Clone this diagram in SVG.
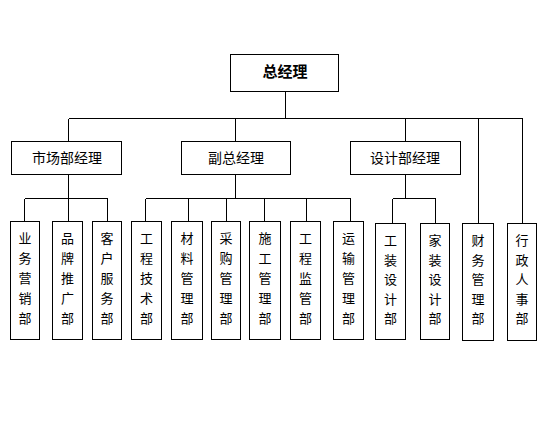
<svg xmlns="http://www.w3.org/2000/svg" width="548" height="432" viewBox="0 0 548 432">
<style>
rect{fill:#fff;stroke:#000;stroke-width:1;shape-rendering:crispEdges}
.c line{stroke:#000;stroke-width:1;shape-rendering:crispEdges}
text{font-family:"Noto Sans CJK SC","Noto Sans CJK JP",sans-serif;fill:#000;text-anchor:middle;dominant-baseline:central}
.t{font-size:15px;font-weight:bold}
.m{font-size:14px}
.l{font-size:13px}
</style>
<rect x="0" y="0" width="548" height="432" style="stroke:none"/>
<g class="c" id="connectors">
<line x1="285.5" y1="91.5" x2="285.5" y2="118.5"/>
<line x1="68.5" y1="118.5" x2="522.5" y2="118.5"/>
<line x1="68.5" y1="118.5" x2="68.5" y2="141.5"/>
<line x1="235.5" y1="118.5" x2="235.5" y2="141.5"/>
<line x1="405.5" y1="118.5" x2="405.5" y2="141.5"/>
<line x1="478.5" y1="118.5" x2="478.5" y2="223.5"/>
<line x1="522.5" y1="118.5" x2="522.5" y2="223.5"/>
<line x1="68.5" y1="174.5" x2="68.5" y2="198.5"/>
<line x1="235.5" y1="174.5" x2="235.5" y2="198.5"/>
<line x1="405.5" y1="174.5" x2="405.5" y2="198.5"/>
<line x1="24.5" y1="198.5" x2="107.5" y2="198.5"/>
<line x1="145.5" y1="198.5" x2="350.5" y2="198.5"/>
<line x1="392.5" y1="198.5" x2="435.5" y2="198.5"/>
<line x1="24.5" y1="198.5" x2="24.5" y2="221.5"/>
<line x1="68.5" y1="198.5" x2="68.5" y2="221.5"/>
<line x1="107.5" y1="198.5" x2="107.5" y2="221.5"/>
<line x1="145.5" y1="198.5" x2="145.5" y2="221.5"/>
<line x1="188.5" y1="198.5" x2="188.5" y2="221.5"/>
<line x1="226.5" y1="198.5" x2="226.5" y2="221.5"/>
<line x1="264.5" y1="198.5" x2="264.5" y2="221.5"/>
<line x1="306.5" y1="198.5" x2="306.5" y2="221.5"/>
<line x1="350.5" y1="198.5" x2="350.5" y2="221.5"/>
<line x1="392.5" y1="198.5" x2="392.5" y2="223.5"/>
<line x1="435.5" y1="198.5" x2="435.5" y2="223.5"/>
</g>
<g id="gm"><rect x="230.5" y="54.5" width="108" height="37"/><text class="t" x="285" y="70">总经理</text></g>
<g id="scb"><rect x="11.5" y="141.5" width="110" height="33"/><text class="m" x="67" y="157">市场部经理</text></g>
<g id="fzjl"><rect x="181.5" y="141.5" width="109" height="33"/><text class="m" x="236" y="157">副总经理</text></g>
<g id="sjb"><rect x="350.5" y="141.5" width="110" height="33"/><text class="m" x="405" y="157">设计部经理</text></g>
<g id="ywyx"><rect x="10.5" y="221.5" width="29" height="118"/><text class="l" x="25"><tspan x="25" y="237">业</tspan><tspan x="25" y="257">务</tspan><tspan x="25" y="277">营</tspan><tspan x="25" y="297">销</tspan><tspan x="25" y="317">部</tspan></text></g>
<g id="pptg"><rect x="52.5" y="221.5" width="30" height="118"/><text class="l"><tspan x="67.5" y="237">品</tspan><tspan x="67.5" y="257">牌</tspan><tspan x="67.5" y="277">推</tspan><tspan x="67.5" y="297">广</tspan><tspan x="67.5" y="317">部</tspan></text></g>
<g id="khfw"><rect x="92.5" y="221.5" width="29" height="118"/><text class="l"><tspan x="107" y="237">客</tspan><tspan x="107" y="257">户</tspan><tspan x="107" y="277">服</tspan><tspan x="107" y="297">务</tspan><tspan x="107" y="317">部</tspan></text></g>
<g id="gcjs"><rect x="131.5" y="221.5" width="30" height="118"/><text class="l"><tspan x="146.5" y="237">工</tspan><tspan x="146.5" y="257">程</tspan><tspan x="146.5" y="277">技</tspan><tspan x="146.5" y="297">术</tspan><tspan x="146.5" y="317">部</tspan></text></g>
<g id="clgl"><rect x="171.5" y="221.5" width="31" height="118"/><text class="l"><tspan x="187" y="237">材</tspan><tspan x="187" y="257">料</tspan><tspan x="187" y="277">管</tspan><tspan x="187" y="297">理</tspan><tspan x="187" y="317">部</tspan></text></g>
<g id="cggl"><rect x="211.5" y="221.5" width="29" height="118"/><text class="l"><tspan x="226" y="237">采</tspan><tspan x="226" y="257">购</tspan><tspan x="226" y="277">管</tspan><tspan x="226" y="297">理</tspan><tspan x="226" y="317">部</tspan></text></g>
<g id="sggl"><rect x="249.5" y="221.5" width="31" height="118"/><text class="l"><tspan x="265" y="237">施</tspan><tspan x="265" y="257">工</tspan><tspan x="265" y="277">管</tspan><tspan x="265" y="297">理</tspan><tspan x="265" y="317">部</tspan></text></g>
<g id="gcjg"><rect x="290.5" y="221.5" width="30" height="118"/><text class="l"><tspan x="305.5" y="237">工</tspan><tspan x="305.5" y="257">程</tspan><tspan x="305.5" y="277">监</tspan><tspan x="305.5" y="297">管</tspan><tspan x="305.5" y="317">部</tspan></text></g>
<g id="ysgl"><rect x="333.5" y="221.5" width="30" height="118"/><text class="l"><tspan x="348.5" y="237">运</tspan><tspan x="348.5" y="257">输</tspan><tspan x="348.5" y="277">管</tspan><tspan x="348.5" y="297">理</tspan><tspan x="348.5" y="317">部</tspan></text></g>
<g id="gzsj"><rect x="375.5" y="223.5" width="30" height="116"/><text class="l"><tspan x="390.5" y="239">工</tspan><tspan x="390.5" y="258.5">装</tspan><tspan x="390.5" y="278">设</tspan><tspan x="390.5" y="297.5">计</tspan><tspan x="390.5" y="317">部</tspan></text></g>
<g id="jzsj"><rect x="420.5" y="223.5" width="29" height="116"/><text class="l"><tspan x="435" y="239">家</tspan><tspan x="435" y="258.5">装</tspan><tspan x="435" y="278">设</tspan><tspan x="435" y="297.5">计</tspan><tspan x="435" y="317">部</tspan></text></g>
<g id="cwgl"><rect x="462.5" y="223.5" width="31" height="117"/><text class="l"><tspan x="478" y="239">财</tspan><tspan x="478" y="258.5">务</tspan><tspan x="478" y="278">管</tspan><tspan x="478" y="297.5">理</tspan><tspan x="478" y="317">部</tspan></text></g>
<g id="xzrs"><rect x="507.5" y="223.5" width="29" height="117"/><text class="l"><tspan x="522" y="239">行</tspan><tspan x="522" y="258.5">政</tspan><tspan x="522" y="278">人</tspan><tspan x="522" y="297.5">事</tspan><tspan x="522" y="317">部</tspan></text></g>
</svg>
